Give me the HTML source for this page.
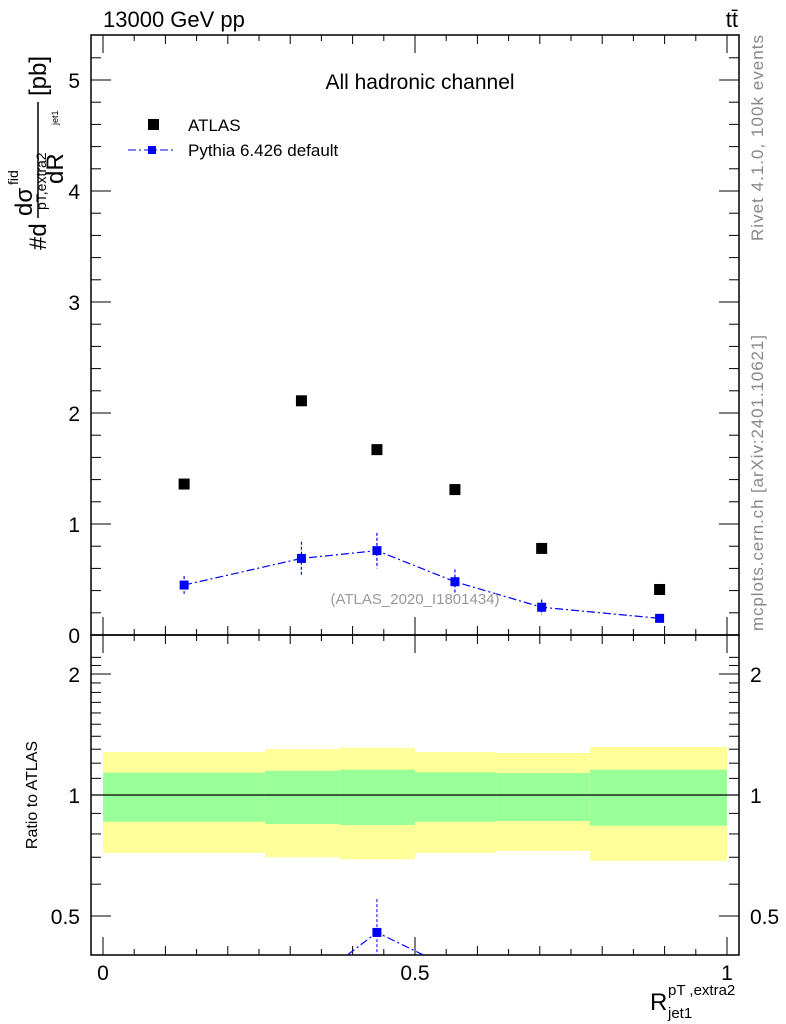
<!DOCTYPE html>
<html><head><meta charset="utf-8"><style>
body{margin:0;background:#fff;}
svg{display:block;font-family:"Liberation Sans",sans-serif;}
</style></head><body>
<svg id="c" width="786" height="1024" xmlns="http://www.w3.org/2000/svg"></svg>
<script>
const binEdges=[0,0.26,0.38,0.5,0.63,0.78,1.0];
const xCenters=[0.13,0.318,0.439,0.564,0.703,0.892];
const atlasVals=[1.36,2.11,1.67,1.31,0.78,0.41];
const pythiaVals=[0.45,0.69,0.76,0.48,0.25,0.15];
const pythiaErr=[0.08,0.15,0.16,0.11,0.07,0.04];
const greenHi=[1.136,1.149,1.156,1.139,1.134,1.156];
const greenLo=[0.858,0.847,0.842,0.858,0.861,0.839];
const yellowHi=[1.279,1.301,1.311,1.279,1.272,1.317];
const yellowLo=[0.718,0.700,0.692,0.718,0.726,0.686];
const topTicks=[0,1,2,3,4,5];
const ratioTicks=[0.5,1,2];
const xTicks=[0,0.5,1];

const NS="http://www.w3.org/2000/svg";
const svg=document.getElementById('c');
function el(t,a,txt){const e=document.createElementNS(NS,t);for(const k in a)e.setAttribute(k,a[k]);if(txt!==undefined)e.textContent=txt;svg.appendChild(e);return e;}
const L=91,R=739,T=35,M=635,B=955;
const X=v=>103+v*624;
const Y=v=>635-v*111;
const YR=r=>795-121*Math.log2(r);

for(let i=0;i<6;i++){
 let e=el('rect',{x:X(binEdges[i]),y:YR(yellowHi[i]),width:X(binEdges[i+1])-X(binEdges[i]),height:YR(yellowLo[i])-YR(yellowHi[i]),fill:'#ffff99'});
 
 e=el('rect',{x:X(binEdges[i]),y:YR(greenHi[i]),width:X(binEdges[i+1])-X(binEdges[i]),height:YR(greenLo[i])-YR(greenHi[i]),fill:'#99ff99'});
 
}
let ln=el('line',{x1:L,x2:R,y1:YR(1),y2:YR(1),stroke:'#000','stroke-width':1.2});


let f=el('rect',{x:L,y:T,width:R-L,height:M-T,fill:'none',stroke:'#000','stroke-width':1.5});

f=el('rect',{x:L,y:M,width:R-L,height:B-M,fill:'none',stroke:'#000','stroke-width':1.5});


for(let v=0;v<=1.0001;v+=0.05){
 const isMaj=Math.abs(v*2-Math.round(v*2))<1e-6, isMid=Math.abs(v*10-Math.round(v*10))<1e-6;
 const len=isMaj?18:(isMid?9:6);
 for(const [y0,d] of [[T,1],[M,-1],[M,1],[B,-1]]) el('line',{x1:X(v),x2:X(v),y1:y0,y2:y0+d*len,stroke:'#000','stroke-width':1});
}
xTicks.forEach(v=>{const t=el('text',{x:X(v),y:980,'font-size':21,'text-anchor':'middle'},String(v));});

for(let v=0;v<=5.4;v+=0.2){
 const maj=Math.abs(v-Math.round(v))<1e-6;const len=maj?20:10;
 el('line',{x1:L,x2:L+len,y1:Y(v),y2:Y(v),stroke:'#000'});
 el('line',{x1:R,x2:R-len,y1:Y(v),y2:Y(v),stroke:'#000'});
}
topTicks.forEach(v=>{const t=el('text',{x:80,y:Y(v)+8,'font-size':21,'text-anchor':'end'},String(v));});

for(let r=0.4;r<=2.3;r+=0.1){
 const rr=Math.round(r*10)/10;const y=YR(rr);if(y<M||y>B)continue;
 const maj=ratioTicks.includes(rr);const len=maj?20:10;
 el('line',{x1:L,x2:L+len,y1:y,y2:y,stroke:'#000'});
 el('line',{x1:R,x2:R-len,y1:y,y2:y,stroke:'#000'});
}
ratioTicks.forEach(r=>{
 let t=el('text',{x:80,y:YR(r)+8,'font-size':21,'text-anchor':'end'},String(r));
 t=el('text',{x:750,y:YR(r)+8,'font-size':21},String(r));
});

let pts=xCenters.map((x,i)=>X(x)+','+Y(pythiaVals[i])).join(' ');
let pl=el('polyline',{points:pts,fill:'none',stroke:'#0000ff','stroke-width':1.2,'stroke-dasharray':'8,3,2,3'});

xCenters.forEach((x,i)=>{
 el('line',{x1:X(x),x2:X(x),y1:Y(pythiaVals[i]+pythiaErr[i]),y2:Y(pythiaVals[i]-pythiaErr[i]),stroke:'#0000ff','stroke-width':1.2,'stroke-dasharray':'3,2'});
 const r=el('rect',{x:X(x)-4.5,y:Y(pythiaVals[i])-4.5,width:9,height:9,fill:'#0000ff'});
 
 const a=el('rect',{x:X(x)-5.5,y:Y(atlasVals[i])-5.5,width:11,height:11,fill:'#000'});
 
});

const cp=el('clipPath',{id:'rc'});
const cr=document.createElementNS(NS,'rect');
cr.setAttribute('x',L);cr.setAttribute('y',M);cr.setAttribute('width',R-L);cr.setAttribute('height',B-M);
cp.appendChild(cr);
const g=el('g',{'clip-path':'url(#rc)'});

const rv=pythiaVals.map((v,i)=>v/atlasVals[i]);
const rp=document.createElementNS(NS,'polyline');
rp.setAttribute('points',xCenters.map((x,i)=>X(x)+','+YR(rv[i])).join(' '));
rp.setAttribute('fill','none');rp.setAttribute('stroke','#0000ff');rp.setAttribute('stroke-width','1.2');rp.setAttribute('stroke-dasharray','8,3,2,3');
g.appendChild(rp);
xCenters.forEach((x,i)=>{
 if(YR(rv[i])>B) return;
 const e1=document.createElementNS(NS,'line');
 e1.setAttribute('x1',X(x));e1.setAttribute('x2',X(x));
 e1.setAttribute('y1',YR((pythiaVals[i]+pythiaErr[i])/atlasVals[i]));e1.setAttribute('y2',YR((pythiaVals[i]-pythiaErr[i])/atlasVals[i]));
 e1.setAttribute('stroke','#0000ff');e1.setAttribute('stroke-dasharray','3,2');g.appendChild(e1);
 const q=document.createElementNS(NS,'rect');
 q.setAttribute('x',X(x)-4.5);q.setAttribute('y',YR(rv[i])-4.5);q.setAttribute('width',9);q.setAttribute('height',9);q.setAttribute('fill','#0000ff');
 
 g.appendChild(q);
});

function txt(name,a,s){const t=el('text',a,s);return t;}
txt('header-energy',{x:103,y:27,'font-size':22},'13000 GeV pp');
txt('header-process',{x:738,y:27,'font-size':22,'text-anchor':'end'},'tt̄');
txt('plot-title',{x:420,y:89,'font-size':21,'text-anchor':'middle'},'All hadronic channel');
let a=el('rect',{x:148,y:119,width:11,height:11,fill:'#000'});
txt('legend-atlas',{x:188,y:131,'font-size':17},'ATLAS');
el('line',{x1:128,x2:175,y1:150,y2:150,stroke:'#0000ff','stroke-dasharray':'8,3,2,3'});
a=el('rect',{x:148,y:146,width:8,height:8,fill:'#0000ff'});
txt('legend-pythia',{x:188,y:156,'font-size':17},'Pythia 6.426 default');
txt('watermark',{x:415,y:604,'font-size':15,fill:'#999','text-anchor':'middle'},'(ATLAS_2020_I1801434)');
txt('rivet-label',{x:763,y:241,'font-size':17,fill:'#888',transform:'rotate(-90 763 241)',textLength:206},'Rivet 4.1.0,  100k events');
txt('mcplots-label',{x:763,y:631,'font-size':17,fill:'#888',transform:'rotate(-90 763 631)',textLength:296},'mcplots.cern.ch [arXiv:2401.10621]');
txt('ratio-y-title',{x:37,y:795,'font-size':16,'text-anchor':'middle',transform:'rotate(-90 37 795)'},'Ratio to ATLAS');
const yt=el('g',{transform:'translate(46,250) rotate(-90)'});
yt.innerHTML='<text x="0" y="0" font-size="24">#d</text><line x1="32" x2="148" y1="-8" y2="-8" stroke="#000" stroke-width="1.5"/><text x="34" y="-14" font-size="24">dσ</text><text x="65" y="-28" font-size="14">fid</text><text x="40" y="0" font-size="14">pT,extra2</text><text x="125" y="12" font-size="9">jet1</text><text x="66" y="17" font-size="24">dR</text><text x="154" y="0" font-size="24">[pb]</text>';
const xt=el('g',{});
xt.innerHTML='<text x="650" y="1010" font-size="24">R</text><text x="668" y="1018" font-size="15">jet1</text><text x="668" y="995" font-size="15">pT ,extra2</text>';
</script>
</body></html>
